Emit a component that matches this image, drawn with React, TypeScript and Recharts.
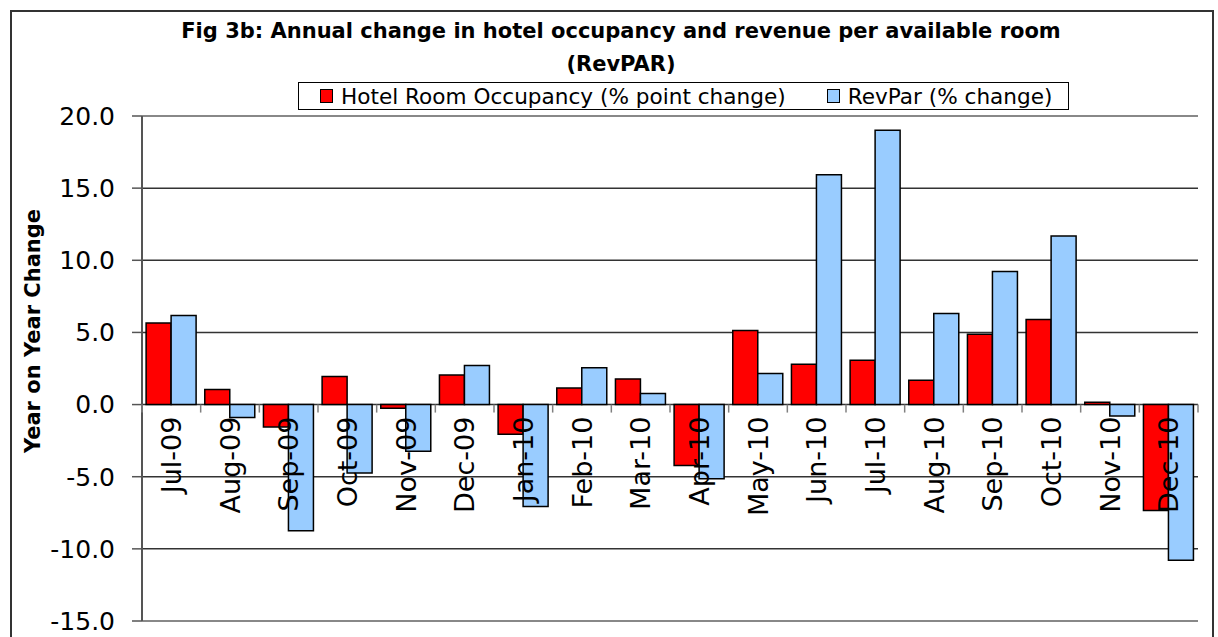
import { Bar, BarChart, CartesianGrid, ReferenceLine, XAxis, YAxis } from "recharts";

const months = [
  "Jul-09", "Aug-09", "Sep-09", "Oct-09", "Nov-09", "Dec-09",
  "Jan-10", "Feb-10", "Mar-10", "Apr-10", "May-10", "Jun-10",
  "Jul-10", "Aug-10", "Sep-10", "Oct-10", "Nov-10", "Dec-10",
];
const occupancy = [
  5.65, 1.04, -1.55, 1.94, -0.25, 2.05, -2.05, 1.15, 1.78, -4.22,
  5.14, 2.8, 3.08, 1.68, 4.88, 5.89, 0.16, -7.34,
];
const revpar = [
  6.18, -0.9, -8.74, -4.75, -3.23, 2.7, -7.07, 2.56, 0.76, -5.14,
  2.15, 15.93, 19.02, 6.31, 9.23, 11.68, -0.79, -10.79,
];
const yTicks = [-15, -10, -5, 0, 5, 10, 15, 20];

const W = 1218;
const H = 637;
const X_AXIS_H = 1;
const MARGIN = { top: 116, right: 20, bottom: 15, left: 42 };
const Y_AXIS_W = 100;
const PLOT_W = W - MARGIN.left - Y_AXIS_W - MARGIN.right;
const PLOT_H = H - MARGIN.top - MARGIN.bottom - X_AXIS_H;
const Y_MIN = -15;
const Y_MAX = 20;

const FONT = "'DejaVu Sans', sans-serif";

const data = months.map((m, i) => ({ month: m, occ: occupancy[i], rev: revpar[i] }));

function MonthTick(props: any) {
  const { x, y, payload, index } = props;
  // axis sits at the plot bottom; labels hang from the zero line
  const zeroY = y - (PLOT_H * (0 - Y_MIN)) / (Y_MAX - Y_MIN);
  const band = PLOT_W / months.length;
  const ty = zeroY + 12;
  return (
    <g>
      <line x1={x - band / 2} x2={x - band / 2} y1={zeroY} y2={zeroY + 8} stroke="#808080" strokeWidth={1.5} />
      {index === months.length - 1 && (
        <line x1={x + band / 2} x2={x + band / 2} y1={zeroY} y2={zeroY + 8} stroke="#808080" strokeWidth={1.5} />
      )}
      <text
        x={x}
        y={ty}
        dy="0.36em"
        textAnchor="end"
        transform={`rotate(-90, ${x}, ${ty})`}
        fontFamily={FONT}
        fontSize={27}
        fill="#000"
      >
        {payload.value}
      </text>
    </g>
  );
}

function Swatch({ color }: { color: string }) {
  return (
    <span
      style={{
        display: "inline-block",
        width: 11,
        height: 12,
        background: color,
        border: "1.5px solid #000",
        marginRight: 8,
      }}
    />
  );
}

export default function App() {
  return (
    <div style={{ position: "absolute", left: 0, top: 0, width: W, height: H, background: "#fff", overflow: "hidden" }}>
      <div
        style={{
          position: "absolute",
          left: 10,
          top: 10,
          width: 1204,
          height: 660,
          border: "2px solid #333",
          boxSizing: "border-box",
        }}
      />
      <div
        style={{
          position: "absolute",
          left: 161,
          width: 920,
          top: 15,
          textAlign: "center",
          fontFamily: FONT,
          fontWeight: "bold",
          fontSize: 21,
          lineHeight: "33px",
          whiteSpace: "nowrap",
        }}
      >
        <div>Fig 3b: Annual change in hotel occupancy and revenue per available room</div>
        <div>(RevPAR)</div>
      </div>
      <div
        style={{
          position: "absolute",
          left: 298,
          top: 82,
          width: 771,
          height: 28,
          border: "1px solid #000",
          boxSizing: "border-box",
          display: "flex",
          alignItems: "center",
          fontFamily: FONT,
          fontSize: 21.6,
          whiteSpace: "nowrap",
          paddingLeft: 21,
        }}
      >
        <Swatch color="#FF0000" />
        <span style={{ marginRight: 41 }}>Hotel Room Occupancy (% point change)</span>
        <Swatch color="#99CCFF" />
        <span>RevPar (% change)</span>
      </div>
      <div
        style={{
          position: "absolute",
          left: 33,
          top: 331,
          transform: "translate(-50%, -50%) rotate(-90deg)",
          fontFamily: FONT,
          fontWeight: "bold",
          fontSize: 21,
          whiteSpace: "nowrap",
        }}
      >
        Year on Year Change
      </div>
      <div style={{ position: "absolute", left: 0, top: 0 }}>
        <BarChart width={W} height={H} data={data} margin={MARGIN} barCategoryGap="7%" barGap={0}>
          <CartesianGrid vertical={false} stroke="#333" strokeWidth={1.5} />
          <YAxis
            domain={[Y_MIN, Y_MAX]}
            ticks={yTicks}
            width={Y_AXIS_W}
            interval={0}
            tickFormatter={(v: number) => v.toFixed(1)}
            tick={{ fill: "#000", fontFamily: FONT, fontSize: 25 }}
            tickSize={10}
            tickMargin={17}
            axisLine={{ stroke: "#555", strokeWidth: 2 }}
            tickLine={{ stroke: "#555", strokeWidth: 1.5 }}
          />
          <YAxis
            yAxisId="frame"
            orientation="right"
            domain={[Y_MIN, Y_MAX]}
            width={0}
            tick={false}
            tickLine={false}
            axisLine={{ stroke: "#888", strokeWidth: 2 }}
          />
          <ReferenceLine y={Y_MAX} stroke="#888" strokeWidth={2} />
          <ReferenceLine y={Y_MIN} stroke="#888" strokeWidth={2} />
          <Bar dataKey="occ" fill="#FF0000" stroke="#000" strokeWidth={1.5} isAnimationActive={false} />
          <Bar dataKey="rev" fill="#99CCFF" stroke="#000" strokeWidth={1.5} isAnimationActive={false} />
          <XAxis
            dataKey="month"
            height={X_AXIS_H}
            interval={0}
            tickSize={0}
            tickMargin={0}
            axisLine={false}
            tickLine={false}
            tick={<MonthTick />}
          />
        </BarChart>
      </div>
    </div>
  );
}
